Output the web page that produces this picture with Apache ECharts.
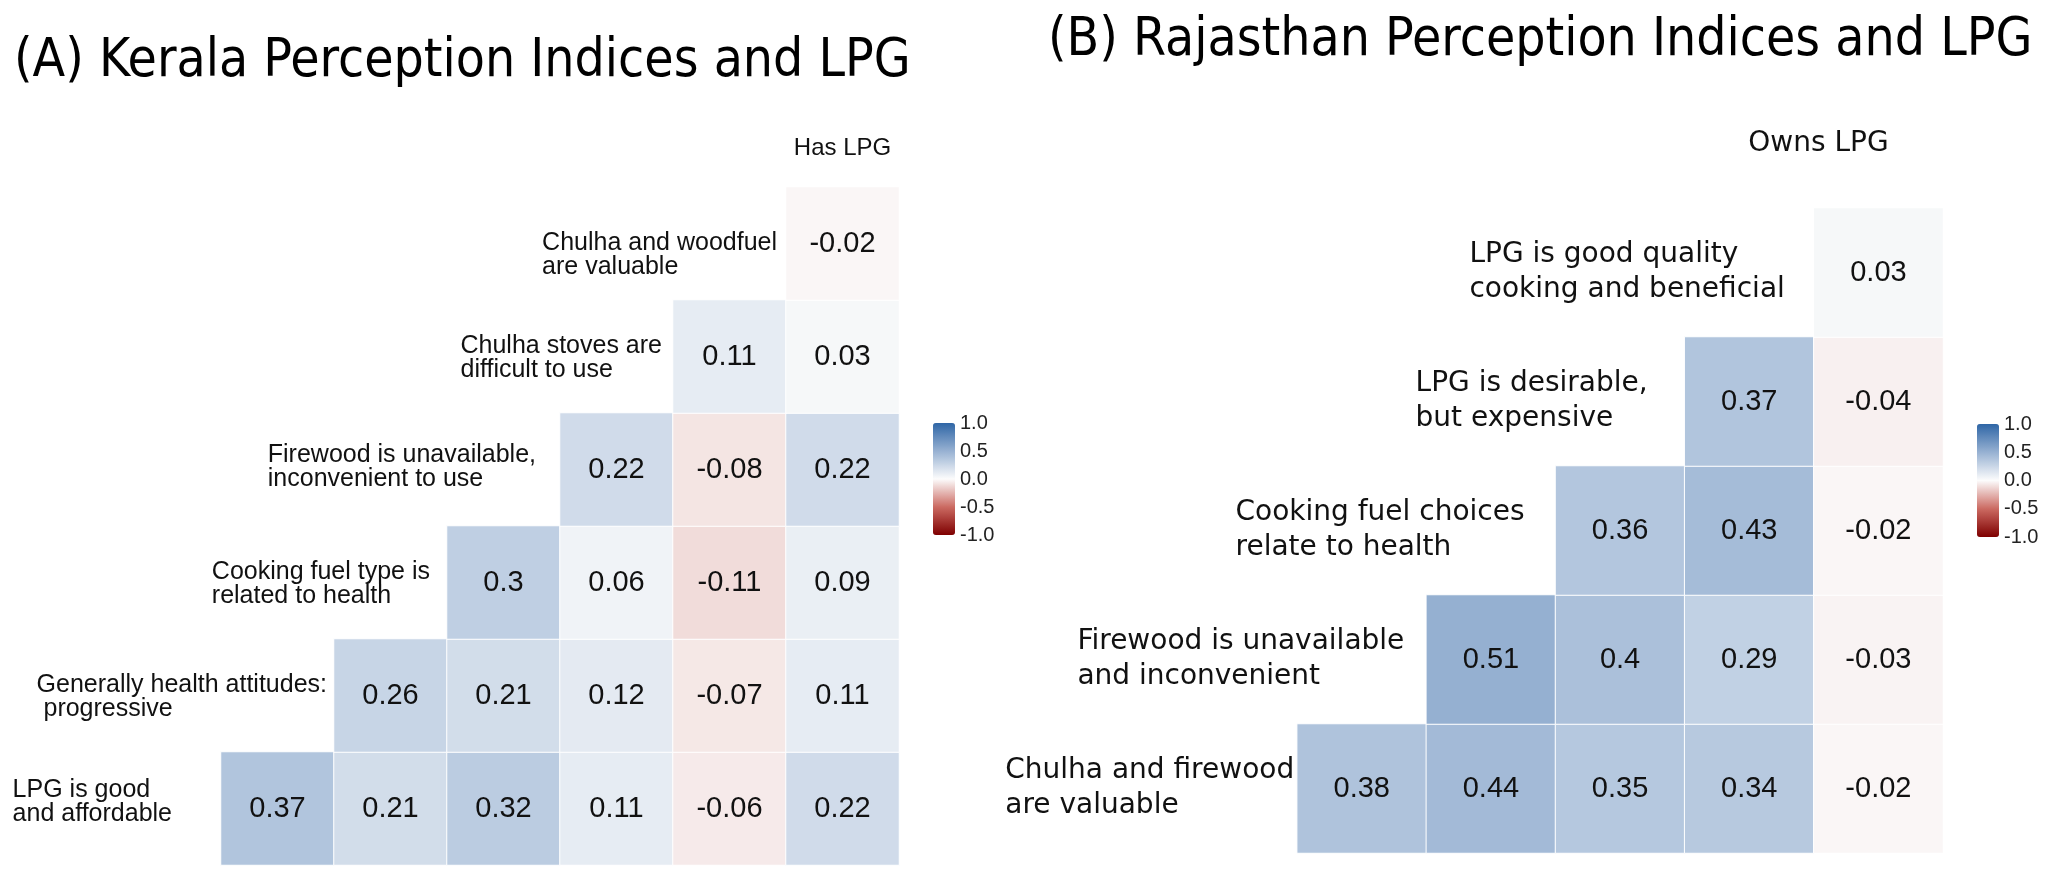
<!DOCTYPE html>
<html><head><meta charset="utf-8">
<script src="https://cdn.jsdelivr.net/npm/echarts@6/dist/echarts.min.js"></script>
<style>html,body{margin:0;padding:0;background:#fff}#c{width:2052px;height:875px}</style>
</head><body><div id="c"></div>
<script>
// ---------- DATA ----------
// Kerala: variables from bottom row (diagonal) upward; last one is the top label
const keralaVars = [
  "LPG is good\nand affordable",
  "Generally health attitudes:\n progressive",
  "Cooking fuel type is\nrelated to health",
  "Firewood is unavailable,\ninconvenient to use",
  "Chulha stoves are\ndifficult to use",
  "Chulha and woodfuel\nare valuable",
  "Has LPG"
];
// row k: correlations of variable k with variables k+1 .. last
const keralaCorr = [
  [0.37, 0.21, 0.32, 0.11, -0.06, 0.22],
  [0.26, 0.21, 0.12, -0.07, 0.11],
  [0.3, 0.06, -0.11, 0.09],
  [0.22, -0.08, 0.22],
  [0.11, 0.03],
  [-0.02]
];
const rajVars = [
  "Chulha and firewood\nare valuable",
  "Firewood is unavailable\nand inconvenient",
  "Cooking fuel choices\nrelate to health",
  "LPG is desirable,\nbut expensive",
  "LPG is good quality\ncooking and beneficial",
  "Owns LPG"
];
const rajCorr = [
  [0.38, 0.44, 0.35, 0.34, -0.02],
  [0.51, 0.4, 0.29, -0.03],
  [0.36, 0.43, -0.02],
  [0.37, -0.04],
  [0.03]
];
const titleA = "(A) Kerala Perception Indices and LPG";
const titleB = "(B) Rajasthan Perception Indices and LPG";
const legendMin = -1, legendMax = 1, legendStep = 0.5;

// ---------- STYLE / LAYOUT ----------
const colorStops = ['#7F0000', '#CB6A62', '#FCFCFC', '#97B1D2', '#2F66A6'];
const gridA = {left: 108, top: 74, width: 791, height: 791};
const gridB = {left: 1168, top: 79, width: 775, height: 774};
const legA = {left: 933, top: 423, width: 22, height: 112};
const legB = {left: 1977, top: 424, width: 22, height: 113};
const styleA = {font: 'Liberation Sans', size: 25, lh: 24, gaps: [49, 7, 17, 24, 11, 9], dys: [-6, 2, 2, -2, 2, 12],
  topSize: 24, topOffset: [0, 18]};
const styleB = {font: 'DejaVu Sans', size: 28, lh: 35, gaps: [3, 22, 31, 37, 29], dys: [0, 0, 0, 0, 0],
  topSize: 28, topOffset: [-60, 0]};
const numFont = 'Liberation Sans';
const titleFont = '"DejaVu Sans Condensed", "DejaVu Sans"';
const textColor = '#111111';

const ctx = document.createElement('canvas').getContext('2d');
function textWidth(str, font) {
  ctx.font = font;
  return Math.max(...str.split('\n').map(s => ctx.measureText(s).width));
}

function heatData(corr) {
  const out = [];
  corr.forEach((row, k) => row.forEach((v, j) => out.push([k + 1 + j, k, v])));
  return out;
}

function labelData(vars, grid, st) {
  const n = vars.length;
  const cellW = grid.width / n;
  const out = [];
  for (let k = 0; k < n - 1; k++) {
    const w = textWidth(vars[k], st.size + 'px "' + st.font + '"');
    out.push({
      value: [k, k],
      label: {
        show: true, position: 'inside', align: 'left', verticalAlign: 'middle',
        offset: [cellW / 2 - st.gaps[k] - w, st.dys[k]], opacity: 1,
        formatter: vars[k], fontFamily: st.font, fontSize: st.size, lineHeight: st.lh, color: textColor
      }
    });
  }
  out.push({
    value: [n - 1, n - 1],
    label: {
      show: true, position: 'inside', align: 'center', verticalAlign: 'middle', opacity: 1,
      offset: st.topOffset, formatter: vars[n - 1], fontFamily: st.font, fontSize: st.topSize, color: textColor
    }
  });
  return out;
}

function catAxis(gi, n) {
  return {type: 'category', gridIndex: gi, data: Array.from({length: n}, (_, i) => String(i)), show: false};
}
function legAxisY(gi, pos, showLabel) {
  return {
    type: 'value', gridIndex: gi, min: legendMin, max: legendMax, interval: legendStep, position: pos,
    axisLine: {show: false}, splitLine: {show: false},
    axisTick: {show: true, inside: true, length: 4, lineStyle: {color: 'rgba(255,255,255,0.75)', width: 1}},
    axisLabel: {show: showLabel, margin: 5, fontSize: 20, fontFamily: 'Liberation Sans', color: '#222',
      align: 'left', formatter: v => v.toFixed(1)}
  };
}

const heatLabel = {
  show: true, fontFamily: numFont, fontSize: 29, color: textColor,
  formatter: p => String(p.value[2])
};

const chart = echarts.init(document.getElementById('c'), null, {renderer: 'canvas'});
chart.setOption({
  animation: false,
  backgroundColor: '#ffffff',
  title: [
    {text: titleA, left: 14, top: 36, padding: 0,
      textStyle: {fontFamily: titleFont, fontSize: 53, fontWeight: 'normal', color: '#000'}},
    {text: titleB, left: 1048, top: 15, padding: 0,
      textStyle: {fontFamily: titleFont, fontSize: 53, fontWeight: 'normal', color: '#000'}}
  ],
  grid: [gridA, gridB, legA, legB],
  xAxis: [catAxis(0, keralaVars.length), catAxis(1, rajVars.length),
    {type: 'value', gridIndex: 2, show: false, min: 0, max: 1},
    {type: 'value', gridIndex: 3, show: false, min: 0, max: 1}],
  yAxis: [catAxis(0, keralaVars.length), catAxis(1, rajVars.length),
    legAxisY(2, 'right', true), legAxisY(2, 'left', false),
    legAxisY(3, 'right', true), legAxisY(3, 'left', false)],
  visualMap: [
    {type: 'continuous', min: legendMin, max: legendMax, seriesIndex: 0, dimension: 2, calculable: false,
      inRange: {color: colorStops}, left: legA.left, top: legA.top, itemWidth: legA.width, itemHeight: legA.height,
      padding: 0, text: null, hoverLink: false},
    {type: 'continuous', min: legendMin, max: legendMax, seriesIndex: 1, dimension: 2, calculable: false,
      inRange: {color: colorStops}, left: legB.left, top: legB.top, itemWidth: legB.width, itemHeight: legB.height,
      padding: 0, text: null, hoverLink: false}
  ],
  series: [
    {type: 'heatmap', xAxisIndex: 0, yAxisIndex: 0, data: heatData(keralaCorr), label: heatLabel,
      itemStyle: {borderColor: '#ffffff', borderWidth: 1}, emphasis: {disabled: true}},
    {type: 'heatmap', xAxisIndex: 1, yAxisIndex: 1, data: heatData(rajCorr), label: heatLabel,
      itemStyle: {borderColor: '#ffffff', borderWidth: 1}, emphasis: {disabled: true}},
    {type: 'scatter', xAxisIndex: 0, yAxisIndex: 0, symbolSize: 1, data: labelData(keralaVars, gridA, styleA),
      itemStyle: {color: 'rgba(0,0,0,0)', opacity: 1}, emphasis: {disabled: true}, silent: true},
    {type: 'scatter', xAxisIndex: 1, yAxisIndex: 1, symbolSize: 1, data: labelData(rajVars, gridB, styleB),
      itemStyle: {color: 'rgba(0,0,0,0)', opacity: 1}, emphasis: {disabled: true}, silent: true}
  ]
});
</script></body></html>
